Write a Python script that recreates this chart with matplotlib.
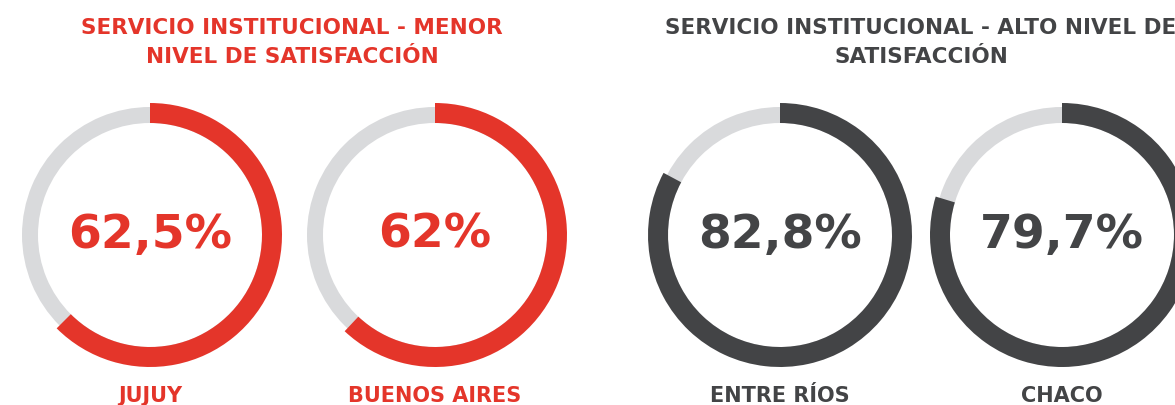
import matplotlib
matplotlib.use("Agg")
import matplotlib.pyplot as plt

# data
groups = ["SERVICIO INSTITUCIONAL - MENOR\nNIVEL DE SATISFACCIÓN",
          "SERVICIO INSTITUCIONAL - ALTO NIVEL DE\nSATISFACCIÓN"]
provinces = ["JUJUY", "BUENOS AIRES", "ENTRE RÍOS", "CHACO"]
values = [62.5, 62.0, 82.8, 79.7]
value_labels = ["62,5%", "62%", "82,8%", "79,7%"]
group_of = [0, 0, 1, 1]

RED = "#E4352A"
DARK = "#434446"
GREY = "#D9DADC"
group_colors = [RED, DARK]

plt.rcParams["font.family"] = ["DejaVu Sans"]

W, H = 1175, 405
fig = plt.figure(figsize=(W / 100, H / 100), dpi=100)

centers_x = [150, 435, 780, 1062]
center_y = 235
r_out = 132
box = 150  # half size of each axes in px

for i, v in enumerate(values):
    cx = centers_x[i]
    ax = fig.add_axes([(cx - box) / W, (H - center_y - box) / H, 2 * box / W, 2 * box / H])
    color = group_colors[group_of[i]]
    # grey track, then the coloured share on top
    ax.pie([100], colors=[GREY], radius=128 / r_out, startangle=90,
           wedgeprops=dict(width=16 / r_out, linewidth=0))
    ax.pie([v, 100 - v], colors=[color, "none"], radius=1.0, startangle=90,
           counterclock=False, wedgeprops=dict(width=20 / r_out, linewidth=0))
    ax.set_xlim(-box / r_out, box / r_out)
    ax.set_ylim(-box / r_out, box / r_out)
    ax.set_aspect("equal")
    ax.axis("off")
    ax.text(0, (center_y - 248) / r_out, value_labels[i], ha="center", va="baseline",
            fontsize=34, fontweight="bold", color=color)
    fig.text(cx / W, 1 - 402 / H, provinces[i], ha="center", va="baseline",
             fontsize=15, fontweight="bold", color=color)

title_x = [292, 921]
baselines = [34, 63]
for g, t in enumerate(groups):
    for line, b in zip(t.split("\n"), baselines):
        fig.text(title_x[g] / W, 1 - b / H, line, ha="center", va="baseline",
                 fontsize=15.5, fontweight="bold", color=group_colors[g])

fig.savefig("out.png", dpi=100, facecolor="white")
